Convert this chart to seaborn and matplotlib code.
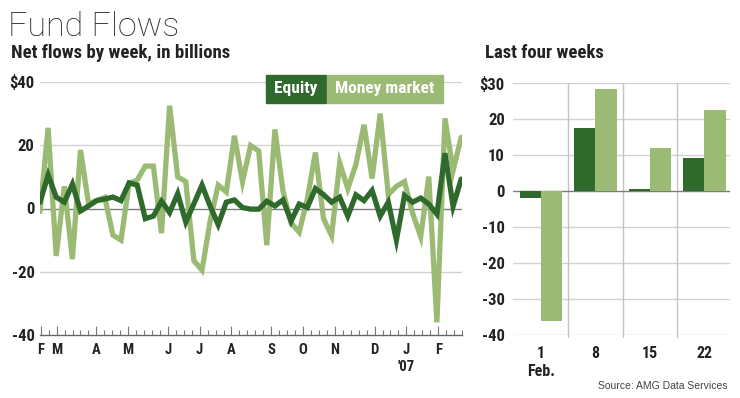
import numpy as np
import pandas as pd
import matplotlib
matplotlib.use("Agg")
import matplotlib.pyplot as plt
import seaborn as sns
from matplotlib.patches import Rectangle

# --- data ---
# weekly net flows, $ billions, Feb 2006 - Feb 22 2007
equity = [2.0, 10.6, 3.6, 2.0, 7.7, -0.8, 0.8, 2.5, 3.0, 3.6,
          2.5, 8.1, 7.4, -3.2, -2.4, 2.3, -1.3, 4.7, -4.3, 1.5,
          7.4, 0.8, -5.1, 2.0, 2.7, 0.3, -0.2, -0.2, 2.3, 0.8,
          2.7, -4.0, 1.4, 0.3, 6.3, 4.4, 2.0, 3.6, -2.4, 4.3,
          2.5, 5.7, -2.4, 2.0, -10.0, 4.1, 2.0, 3.3, 1.4, -1.8,
          17.5, 0.7, 9.3]
money_market = [-1, 25.5, -15, 7, -16, 18.5, 1.5, 2.5, 3.5, -8.4,
                -10, 7.9, 9, 13.4, 13.4, -7.8, 32.5, 10, 8.5, -16.5,
                -19.5, -4, 7.4, 5.2, 23, 8.5, 19.9, 18.2, -11.6, 25,
                5.5, -4.6, -7.5, 3, 17.7, -3.2, -8.6, 14.4, 6.3, 13.9,
                26.5, 9.5, 30, 4.4, 7, 8.5, -1.5, -8.9, 10.1, -36,
                28.5, 12, 22.5]
month_labels = ['F', 'M', 'A', 'M', 'J', 'J', 'A', 'S', 'O', 'N', 'D', "J\n'07", 'F']
month_tick_idx = [0, 2, 7, 11, 16, 20, 24, 29, 33, 37, 42, 46, 50]

weeks = ['1\nFeb.', '8', '15', '22']
last_equity = [-1.8, 17.5, 0.7, 9.3]
last_money = [-36, 28.5, 12, 22.5]

DARK = '#2f6a2c'
LIGHT = '#9bbb74'
TXT = '#222222'

sns.set_style('white')
# narrow face first, whichever is installed
plt.rcParams['font.family'] = ['Liberation Sans Narrow', 'Roboto Condensed',
                               'DejaVu Sans Condensed', 'Open Sans Condensed',
                               'Roboto', 'DejaVu Sans']

n = len(equity)
df = pd.DataFrame({
    'week': list(range(n)) * 2,
    'flow': money_market + equity,
    'series': ['Money market'] * n + ['Equity'] * n,
})
bars = pd.DataFrame({
    'week': weeks * 2,
    'flow': last_equity + last_money,
    'series': ['Equity'] * 4 + ['Money market'] * 4,
})

fig = plt.figure(figsize=(7.4, 3.98), dpi=100)

# --- left: weekly lines ---
ax = fig.add_axes([40 / 740, (398 - 335) / 398, 422 / 740, 253 / 398])
for v in [40, 20, -20]:
    ax.axhline(v, color='#d2d2d2', lw=1, zorder=0)
ax.axhline(0, color='#7d7d7d', lw=1, zorder=0)
sns.lineplot(data=df, x='week', y='flow', hue='series',
             hue_order=['Money market', 'Equity'],
             palette={'Equity': DARK, 'Money market': LIGHT},
             lw=3.8, legend=False, ax=ax)
for line in ax.get_lines():
    line.set_solid_joinstyle('miter')
ax.set_xlim(0, 52.1)
ax.set_ylim(-40, 40)
weekly = np.linspace(0.09, 52.1, 54)
ax.set_xticks(weekly[month_tick_idx], month_labels)
ax.set_xticks(weekly, minor=True)
ax.tick_params(axis='x', which='major', bottom=True, direction='in', length=6.5,
               width=0.8, color='#777777', pad=6, labelsize=10.5, labelcolor=TXT)
ax.tick_params(axis='x', which='minor', bottom=True, direction='in', length=3.8,
               width=0.8, color='#777777')
ax.set_yticks([40, 20, 0, -20, -40], ['$40', '20', '0', '-20', '-40'])
ax.tick_params(axis='y', length=0, pad=4, labelsize=12, labelcolor=TXT)
for lab in ax.get_xticklabels() + ax.get_yticklabels():
    lab.set_fontweight('bold')
for s in ['top', 'right', 'left']:
    ax.spines[s].set_visible(False)
ax.spines['bottom'].set_color('#666666')
ax.spines['bottom'].set_linewidth(1)
ax.set_xlabel('')
ax.set_ylabel('')
ax.patch.set_alpha(0)

# legend boxes
for x0, w, col, label in [(266, 60, DARK, 'Equity'), (326.5, 117, LIGHT, 'Money market')]:
    fig.add_artist(Rectangle((x0 / 740, (398 - 103) / 398), w / 740, 28 / 398,
                             transform=fig.transFigure, color=col, zorder=5))
    fig.text((x0 + w / 2) / 740, (398 - 89) / 398, label, color='white',
             fontsize=12.5, fontweight='bold', ha='center', va='center', zorder=6)

# --- right: last four weeks ---
ax2 = fig.add_axes([513 / 740, (398 - 335) / 398, 217 / 740, 251.7 / 398])
for v in [30, 20, 10, -10, -20, -30, -40]:
    ax2.axhline(v, color='#d2d2d2', lw=1, zorder=0)
for xv in [0.5, 1.5, 2.5]:
    ax2.plot([xv, xv], [-40.6, 30], color='#c4c4c4', lw=1, zorder=0, clip_on=False)
sns.barplot(data=bars, x='week', y='flow', hue='series',
            hue_order=['Equity', 'Money market'],
            palette={'Equity': DARK, 'Money market': LIGHT},
            width=0.78, gap=0, saturation=1, linewidth=0, legend=False,
            ax=ax2, zorder=2)
ax2.axhline(0, color='#7d7d7d', lw=1, zorder=1)
ax2.set_xlim(-0.51, 3.47)
ax2.set_ylim(-40, 30)
ax2.set_yticks([30, 20, 10, 0, -10, -20, -30, -40],
               ['$30', '20', '10', '0', '-10', '-20', '-30', '-40'])
ax2.tick_params(axis='y', length=0, pad=6, labelsize=12, labelcolor=TXT)
ax2.tick_params(axis='x', length=0, pad=8, labelsize=11.5, labelcolor=TXT)
for lab in ax2.get_xticklabels() + ax2.get_yticklabels():
    lab.set_fontweight('bold')
for s in ax2.spines.values():
    s.set_visible(False)
ax2.set_xlabel('')
ax2.set_ylabel('')
ax2.patch.set_alpha(0)

# --- titles ---
fig.text(8 / 740, 1 - 36 / 398, 'Fund Flows', fontsize=24.5, color='#2a2a2a',
         family=['Roboto', 'DejaVu Sans'], fontweight='light', ha='left', va='baseline')
fig.text(11 / 740, 1 - 58.5 / 398, 'Net flows by week, in billions', fontsize=13.5,
         fontweight='bold', color=TXT, ha='left', va='baseline')
fig.text(485 / 740, 1 - 58.5 / 398, 'Last four weeks', fontsize=13.5,
         fontweight='bold', color=TXT, ha='left', va='baseline')
fig.text(728 / 740, 1 - 389 / 398, 'Source: AMG Data Services', fontsize=7.5,
         color='#444444', family=['Liberation Sans', 'DejaVu Sans'], ha='right', va='baseline')

fig.savefig('out.png', dpi=100)
